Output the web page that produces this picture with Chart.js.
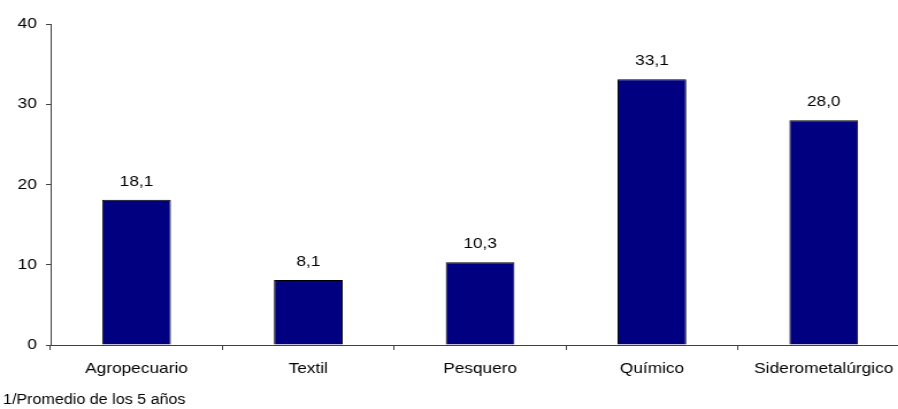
<!DOCTYPE html>
<html>
<head>
<meta charset="utf-8">
<script src="https://cdn.jsdelivr.net/npm/chart.js@4/dist/chart.umd.min.js"></script>
<style>
  html, body { margin: 0; padding: 0; background: #fff; overflow: hidden; width: 898px; height: 409px; }
  #wrap { position: absolute; left: 0; top: 0; width: 793px; height: 409px; transform: scaleX(1.15); transform-origin: 0 0; }
</style>
</head>
<body>
<div id="wrap"><canvas id="c"></canvas></div>
<script>
const categories = ["Agropecuario", "Textil", "Pesquero", "Químico", "Siderometalúrgico"];
const values = [18.1, 8.1, 10.3, 33.1, 28.0];
const yTicks = [0, 10, 20, 30, 40];
const footnote = "1/Promedio de los 5 años";

const FONT = "'Liberation Sans', Arial, sans-serif";
const AXIS = "#404040";

const labelsPlugin = {
  id: "labelsPlugin",
  afterDatasetsDraw(chart) {
    const ctx = chart.ctx;
    const meta = chart.getDatasetMeta(0);
    ctx.save();
    ctx.font = "15px " + FONT;
    ctx.fillStyle = "#000";
    ctx.textAlign = "center";
    ctx.textBaseline = "alphabetic";
    meta.data.forEach((bar, i) => {
      ctx.fillText(values[i].toFixed(1).replace(".", ","), bar.x, bar.y - 14);
    });
    ctx.font = "14px " + FONT;
    ctx.textAlign = "left";
    ctx.fillText(footnote, 2.6, 404);
    ctx.restore();
  }
};

new Chart(document.getElementById("c"), {
  type: "bar",
  data: {
    labels: categories,
    datasets: [{
      data: values,
      backgroundColor: "#000080",
      borderColor: "#000000",
      borderWidth: 1,
      barPercentage: 0.40,
      categoryPercentage: 1.0
    }]
  },
  options: {
    responsive: true,
    maintainAspectRatio: false,
    animation: false,
    devicePixelRatio: 1,
    layout: { padding: { top: 24, right: 2, left: 0, bottom: 0 } },
    plugins: { legend: { display: false }, tooltip: { enabled: false } },
    scales: {
      x: {
        offset: true,
        grid: { offset: true, drawOnChartArea: false, drawTicks: true, tickLength: 5, color: AXIS },
        border: { color: AXIS, width: 1 },
        ticks: { color: "#000", font: { family: FONT, size: 15 }, padding: 10, maxRotation: 0, autoSkip: false },
        afterFit(s) { s.height = 64; }
      },
      y: {
        min: 0, max: 40,
        afterBuildTicks(s) { s.ticks = yTicks.map(v => ({ value: v })); },
        grid: { drawOnChartArea: false, drawTicks: true, tickLength: 4, color: AXIS },
        border: { color: AXIS, width: 1 },
        ticks: { color: "#000", font: { family: FONT, size: 15 }, padding: 8 },
        afterFit(s) { s.width = 44; }
      }
    }
  },
  plugins: [labelsPlugin]
});
</script>
</body>
</html>
